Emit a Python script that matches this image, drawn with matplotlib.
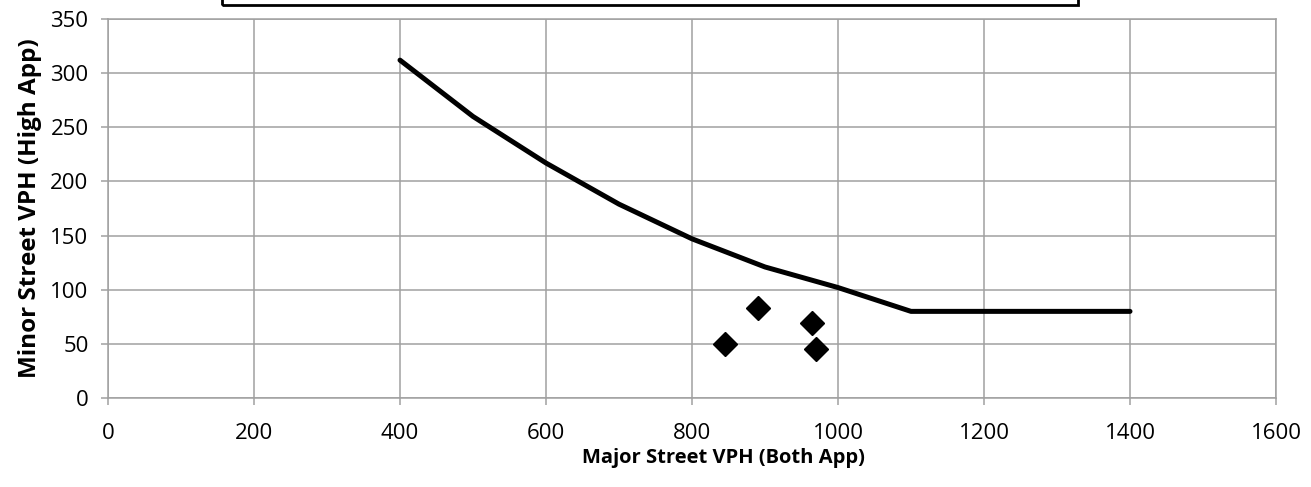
import matplotlib
matplotlib.use("Agg")
import matplotlib.pyplot as plt
from matplotlib.patches import Rectangle

# threshold curve
curve_major = [400, 500, 600, 700, 800, 900, 1000, 1100, 1200, 1300, 1400]
curve_minor = [312, 260, 217, 179, 147, 121, 102, 80, 80, 80, 80]

# observed hours
obs_major = [845, 890, 965, 970]
obs_minor = [50, 83, 69, 45]

x_ticks = [0, 200, 400, 600, 800, 1000, 1200, 1400, 1600]
y_ticks = [0, 50, 100, 150, 200, 250, 300, 350]

GRID = "#a0a0a0"
plt.rcParams["font.family"] = ["Open Sans", "DejaVu Sans"]

W, H = 1311, 487
fig = plt.figure(figsize=(W / 100, H / 100), dpi=100)
ax = fig.add_axes([108 / W, 1 - 398 / H, (1276 - 108) / W, (398 - 19) / H])

ax.plot(curve_major, curve_minor, color="black", linewidth=3.6, solid_capstyle="round", zorder=3)
ax.plot(obs_major, obs_minor, linestyle="none", marker="D", markersize=12,
        color="black", zorder=4)

ax.set_xlim(0, 1600)
ax.set_ylim(0, 350)
ax.set_xticks(x_ticks)
ax.set_yticks(y_ticks)
ax.grid(True, color=GRID, linewidth=1.1)
ax.set_axisbelow(True)
for s in ax.spines.values():
    s.set_color(GRID)
    s.set_linewidth(1.1)
ax.tick_params(direction="out", length=5, width=1.1, color=GRID, labelsize=16)
ax.tick_params(axis="x", pad=13)
ax.tick_params(axis="y", pad=9)

# axis title sits a little right of the plot centre, like the original
ax.set_xlabel("Major Street VPH (Both App)", fontsize=14.5, fontweight="bold",
              labelpad=3, x=0.527, ha="center")
ax.set_ylabel("Minor Street VPH (High App)", fontsize=17.5, fontweight="bold", labelpad=6)

# box cut off at the top of the image
fig.patches.append(Rectangle((222 / W, 1 - 5 / H), (1078 - 222) / W, 0.1,
                             transform=fig.transFigure, fill=False, edgecolor="black",
                             linewidth=2, clip_on=False))

fig.savefig("out.png", dpi=100)
